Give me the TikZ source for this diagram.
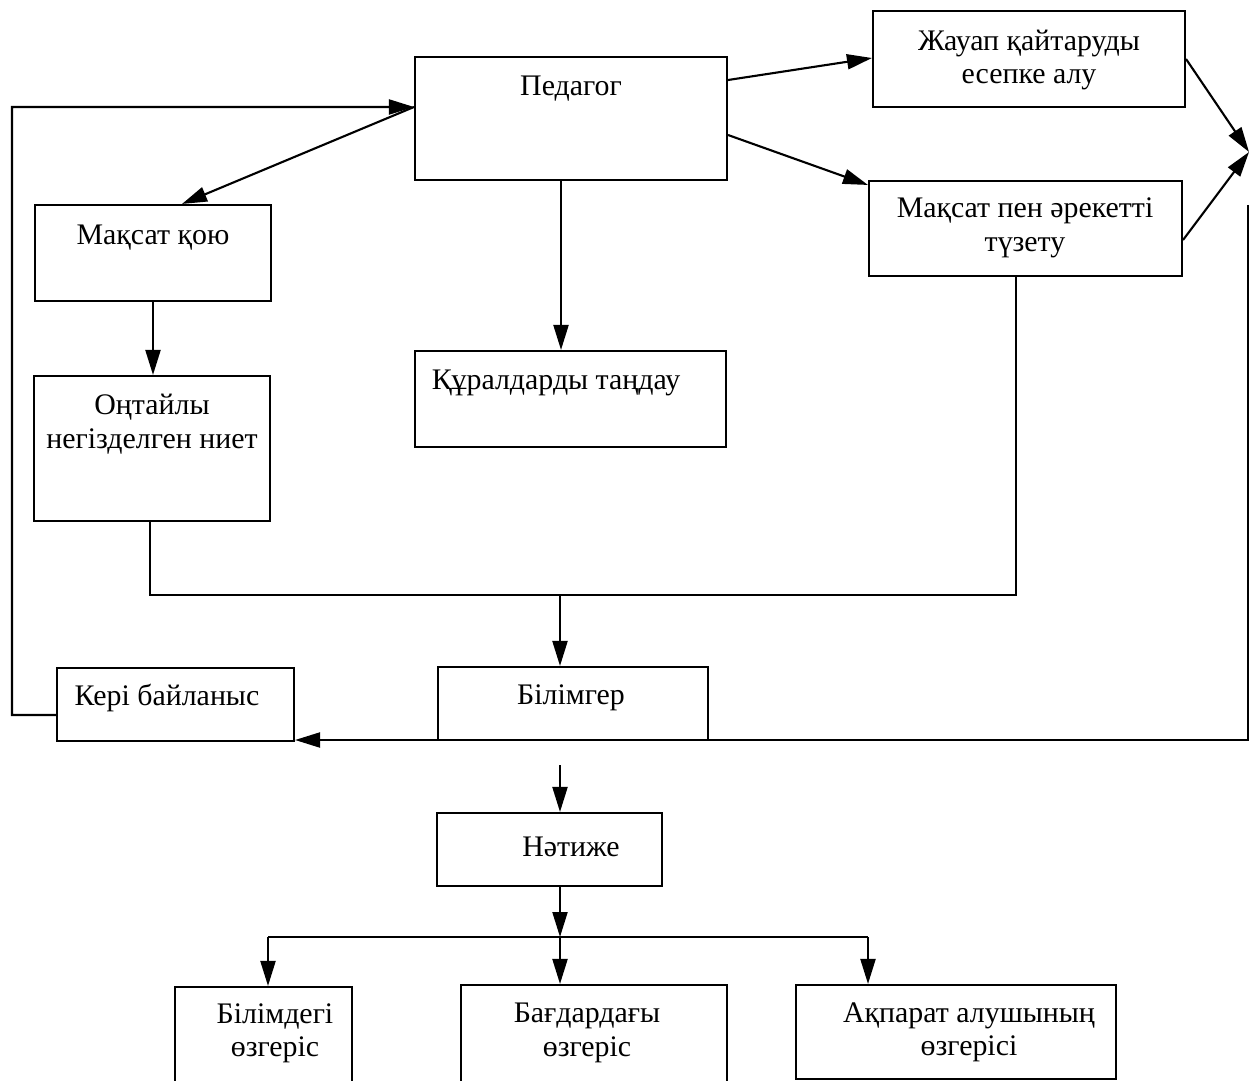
\documentclass[tikz,border=0pt]{standalone}
\usepackage{fontspec}
\setmainfont{Liberation Serif}
\usetikzlibrary{arrows.meta}
\begin{document}
\begin{tikzpicture}[x=0.02cm,y=-0.02cm,
  box/.style={draw,line width=1.2pt,inner sep=0pt,rectangle},
  lbl/.style={font=\fontsize{17}{19}\selectfont,align=center,inner sep=0pt},
  ln/.style={line width=1.2pt},
  arr/.style={ln,-{Triangle[length=0.5cm,width=0.3cm]}}]
\useasboundingbox (0,0) rectangle (1250,1081);
\clip (0,0) rectangle (1250,1081);
% boxes
\node[box,minimum width=6.24cm,minimum height=2.46cm] (ped) at (571,118.5) {};
\node[box,minimum width=6.24cm,minimum height=1.92cm] (zhau) at (1029,59) {};
\node[box,minimum width=6.26cm,minimum height=1.90cm] (mpen) at (1025.5,228.5) {};
\node[box,minimum width=4.72cm,minimum height=1.92cm] (mqoyu) at (153,253) {};
\node[box,minimum width=4.72cm,minimum height=2.90cm] (ontai) at (152,448.5) {};
\node[box,minimum width=6.22cm,minimum height=1.92cm] (qural) at (570.5,399) {};
\node[box,minimum width=4.74cm,minimum height=1.46cm] (keri) at (175.5,704.5) {};
\node[box,minimum width=5.40cm,minimum height=1.46cm] (bilim) at (573,703.5) {};
\node[box,minimum width=4.50cm,minimum height=1.46cm] (natizhe) at (549.5,849.5) {};
\node[box,minimum width=3.54cm,minimum height=2.16cm] (b1) at (263.5,1041) {};
\node[box,minimum width=5.32cm,minimum height=2.20cm] (b2) at (594,1040) {};
\node[box,minimum width=6.40cm,minimum height=1.88cm] (b3) at (956,1032) {};
% texts
\node[lbl] (tped) at (571,89) {Педагог};
\node[lbl] (tzhau) at (1029,60) {Жауап қайтаруды\\есепке алу};
\node[lbl] (tmpen) at (1025,228) {Мақсат пен әрекетті\\түзету};
\node[lbl] (tmqoyu) at (153,238) {Мақсат қою};
\node[lbl] (tontai) at (152,424) {Оңтайлы\\негізделген ниет};
\node[lbl] (tqural) at (556,383) {Құралдарды таңдау};
\node[lbl] (tkeri) at (167,698) {Кері байланыс};
\node[lbl] (tbilim) at (571,698) {Білімгер};
\node[lbl] (tnat) at (571,847) {Нәтиже};
\node[lbl] (tb1) at (275,1033) {Білімдегі\\өзгеріс};
\node[lbl] (tb2) at (587,1033) {Бағдардағы\\өзгеріс};
\node[lbl] (tb3) at (969,1032) {Ақпарат алушының\\өзгерісі};
% connectors
\coordinate (fbc) at (12,107);
\draw[arr] ([yshift=-0.21cm]keri.west) -| (fbc) -- ([yshift=0.23cm]ped.west);
\draw[arr] ([yshift=0.23cm]ped.west) -- ([xshift=0.58cm]mqoyu.north);
\draw[arr] ([yshift=0.77cm]ped.east) -- ([yshift=0.02cm]zhau.west);
\draw[arr] ([yshift=-0.33cm]ped.east) -- ([yshift=-0.1cm]mpen.north west);
\coordinate (rc) at (1249,152);
\draw[arr] (zhau.east) -- (rc);
\draw[arr] ([yshift=-0.23cm]mpen.east) -- (rc);
\coordinate (rt) at (1248,205);
\coordinate (rb) at (1248,740);
\draw[arr] (rt) -- (rb) -- (rb -| keri.east);
\draw[arr] (mqoyu.south) -- (mqoyu.south |- ontai.north);
\coordinate (pd) at ([xshift=-0.2cm]ped.south);
\draw[arr] (pd) -- (pd |- qural.north);
\coordinate (jn) at (560,595);
\coordinate (ms) at ([xshift=-0.19cm]mpen.south);
\coordinate (os) at ([xshift=-0.04cm]ontai.south);
\draw[ln] (os) |- (jn) -| (ms);
\draw[arr] (jn) -- (jn |- bilim.north);
\coordinate (s1) at (560,765);
\draw[arr] (s1) -- (s1 |- natizhe.north);
\coordinate (bar) at (560,937);
\draw[arr] (s1 |- natizhe.south) -- (bar);
\coordinate (bl) at (268,937);
\coordinate (brr) at (868,937);
\draw[ln] (bl) -- (brr);
\draw[arr] (bl) -- (bl |- b1.north);
\draw[arr] (bar) -- (bar |- b2.north);
\draw[arr] (brr) -- (brr |- b3.north);
\end{tikzpicture}
\end{document}
